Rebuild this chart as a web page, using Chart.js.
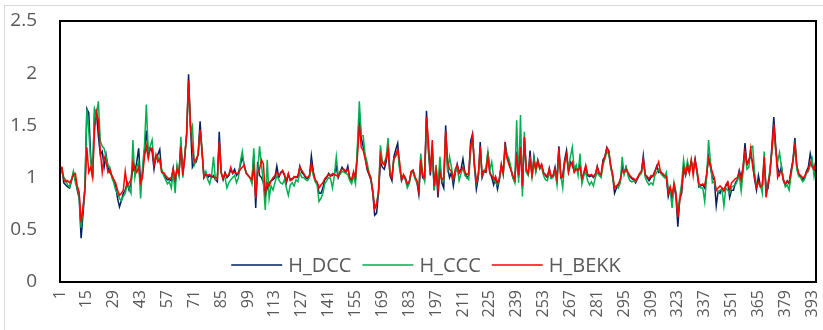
<!DOCTYPE html>
<html>
<head>
<meta charset="utf-8">
<script src="https://cdn.jsdelivr.net/npm/chart.js@4.4.1/dist/chart.umd.min.js"></script>
<style>
  html, body { margin: 0; padding: 0; background: #fff; }
  #wrap { position: relative; width: 823px; height: 330px; }
</style>
</head>
<body>
<div id="wrap"><canvas id="hChart" width="823" height="330"></canvas></div>
<script>
// observation index 1..395 on the x axis
const categories = Array.from({ length: 395 }, (_, i) => String(i + 1));
const yTicks = [0, 0.5, 1, 1.5, 2, 2.5];
const labelStep = 14; // 1, 15, 29 ... 393

const hDCC = [
  1.09, 1.09, 0.95, 0.93, 0.91, 0.90, 0.97, 1.05, 0.98, 0.88,
  0.80, 0.42, 0.65, 0.90, 1.66, 1.62, 1.20, 1.00, 1.65, 1.62,
  1.40, 1.22, 1.25, 1.10, 1.22, 1.10, 1.05, 1.02, 0.98, 0.92,
  0.80, 0.72, 0.78, 0.85, 0.88, 0.95, 0.88, 0.95, 1.10, 1.05,
  1.15, 1.28, 0.95, 1.05, 1.25, 1.45, 1.22, 1.28, 1.25, 1.08,
  1.20, 1.22, 1.27, 1.05, 1.04, 1.00, 0.98, 0.98, 0.97, 1.09,
  0.95, 1.10, 1.03, 1.32, 1.05, 1.20, 1.42, 1.99, 1.50, 1.10,
  1.14, 1.15, 1.23, 1.54, 1.25, 1.00, 1.04, 1.00, 1.02, 1.00,
  1.02, 0.98, 0.96, 1.44, 1.05, 0.98, 1.05, 1.00, 1.02, 1.08,
  1.04, 1.08, 1.02, 1.05, 1.12, 1.20, 1.12, 1.05, 1.02, 1.00,
  0.96, 1.22, 0.71, 1.15, 1.02, 1.00, 0.95, 0.82, 0.90, 0.95,
  0.97, 0.98, 1.00, 1.11, 1.00, 1.05, 1.06, 1.02, 0.95, 1.03,
  0.98, 0.99, 1.00, 1.01, 1.00, 1.11, 1.05, 1.03, 1.00, 0.99,
  1.01, 1.21, 1.06, 0.97, 0.95, 0.85, 0.85, 0.90, 0.98, 1.00,
  1.04, 1.02, 1.02, 1.04, 1.10, 1.00, 1.05, 1.10, 1.07, 1.05,
  1.11, 0.99, 0.97, 1.04, 0.99, 1.25, 1.62, 1.38, 1.30, 1.20,
  1.08, 1.03, 0.98, 0.85, 0.64, 0.66, 0.85, 1.15, 1.10, 1.08,
  1.15, 1.30, 1.02, 0.97, 1.20, 1.27, 1.33, 1.10, 0.97, 1.02,
  1.00, 0.93, 0.95, 1.05, 1.07, 1.00, 0.96, 0.84, 1.15, 1.00,
  0.98, 1.64, 1.25, 1.02, 1.28, 0.88, 1.10, 0.81, 1.10, 0.95,
  0.90, 1.50, 1.10, 1.00, 1.05, 0.92, 1.04, 1.13, 1.05, 1.08,
  1.18, 1.05, 1.00, 1.02, 1.35, 1.42, 1.10, 0.89, 1.00, 1.34,
  1.00, 1.06, 1.05, 1.25, 1.05, 1.00, 0.93, 1.00, 0.89, 0.98,
  1.12, 1.05, 1.34, 1.20, 1.15, 1.08, 1.00, 0.97, 1.25, 1.00,
  1.30, 0.89, 1.38, 1.06, 1.03, 1.26, 1.00, 1.20, 1.07, 1.17,
  1.10, 1.12, 1.05, 1.02, 1.00, 1.09, 1.00, 1.02, 1.10, 0.97,
  1.30, 1.00, 1.02, 1.17, 1.26, 1.06, 1.15, 1.12, 1.06, 1.10,
  1.06, 1.15, 0.97, 1.04, 1.10, 1.02, 1.01, 1.02, 1.00, 1.03,
  1.11, 1.04, 1.02, 1.17, 1.20, 1.29, 1.25, 1.10, 1.02, 0.85,
  0.90, 0.93, 0.97, 1.10, 1.04, 1.10, 1.04, 1.01, 0.99, 0.98,
  0.95, 0.99, 1.03, 1.05, 1.21, 1.02, 1.00, 0.97, 1.00, 1.02,
  1.06, 1.11, 1.05, 1.06, 1.03, 1.01, 1.00, 0.82, 0.90, 0.79,
  0.92, 0.82, 0.53, 0.80, 0.85, 1.10, 1.02, 1.10, 1.05, 1.16,
  1.08, 1.18, 1.05, 0.91, 0.92, 0.93, 0.90, 1.02, 1.20, 1.10,
  1.00, 0.98, 0.73, 0.87, 0.85, 0.90, 0.88, 0.92, 0.95, 0.81,
  0.88, 0.88, 0.95, 0.98, 1.07, 1.00, 1.10, 1.33, 1.12, 1.17,
  1.20, 1.15, 0.98, 0.88, 1.02, 0.92, 0.92, 1.15, 0.92, 0.90,
  1.05, 1.30, 1.58, 1.30, 1.10, 1.03, 1.11, 0.97, 0.93, 0.97,
  0.94, 1.07, 1.17, 1.38, 1.10, 1.03, 1.01, 0.98, 1.00, 1.06,
  1.10, 1.23, 1.14, 1.06, 1.17
];

const hCCC = [
  1.08, 1.05, 1.00, 0.98, 0.93, 0.91, 0.98, 1.06, 0.95, 0.90,
  0.82, 0.52, 0.70, 0.92, 1.66, 1.45, 1.15, 1.05, 1.66, 1.60,
  1.73, 1.35, 1.30, 1.28, 1.20, 1.12, 1.10, 1.00, 0.95, 0.88,
  0.85, 0.80, 0.78, 0.82, 0.85, 0.93, 0.90, 0.85, 1.36, 1.00,
  1.10, 1.15, 0.80, 1.10, 1.30, 1.70, 1.25, 1.30, 1.36, 1.15,
  1.18, 1.20, 1.15, 1.08, 1.02, 0.98, 0.94, 0.96, 0.90, 1.05,
  0.85, 1.12, 1.02, 1.39, 1.00, 1.22, 1.40, 1.90, 1.45, 1.50,
  1.12, 1.17, 1.22, 1.45, 1.28, 1.02, 1.06, 0.98, 0.94, 1.02,
  1.20, 0.98, 1.00, 1.32, 1.04, 1.00, 1.00, 0.90, 0.95, 0.98,
  1.00, 1.02, 0.95, 1.00, 1.15, 1.25, 1.10, 1.05, 1.02, 1.00,
  0.94, 1.28, 0.85, 1.05, 1.30, 1.12, 0.95, 0.69, 1.17, 0.80,
  0.92, 0.88, 0.95, 1.02, 0.98, 0.95, 0.94, 0.98, 0.90, 0.83,
  0.93, 0.95, 0.92, 0.98, 0.96, 1.05, 1.00, 1.00, 0.98, 0.97,
  1.00, 1.10, 1.02, 0.96, 0.93, 0.77, 0.80, 0.85, 0.94, 0.97,
  1.00, 0.99, 0.90, 1.02, 1.20, 1.02, 1.03, 1.06, 1.05, 1.04,
  1.03, 0.97, 0.94, 1.02, 0.94, 1.30, 1.73, 1.40, 1.40, 1.22,
  1.15, 1.05, 1.00, 0.88, 0.72, 0.75, 0.86, 1.31, 1.15, 1.14,
  1.20, 1.38, 1.05, 1.02, 1.18, 1.20, 1.25, 1.08, 0.99, 1.00,
  0.98, 0.90, 0.94, 1.04, 1.05, 0.99, 0.95, 0.90, 1.23, 1.05,
  0.97, 1.50, 1.30, 1.05, 1.30, 0.88, 1.12, 0.92, 1.20, 0.97,
  0.97, 1.40, 1.05, 1.20, 1.10, 0.98, 1.05, 1.10, 0.97, 1.04,
  1.10, 1.02, 1.00, 0.98, 1.25, 1.38, 1.12, 0.95, 1.02, 1.25,
  1.02, 1.05, 1.10, 1.25, 1.08, 1.15, 1.00, 0.95, 0.93, 1.00,
  1.10, 1.02, 1.28, 1.22, 1.18, 1.10, 1.00, 0.95, 1.55, 0.95,
  1.60, 0.82, 1.44, 1.05, 1.02, 1.20, 1.01, 1.18, 1.05, 1.15,
  1.08, 1.10, 1.02, 0.98, 0.97, 1.05, 0.99, 1.00, 1.05, 0.93,
  1.25, 1.02, 0.90, 1.15, 1.20, 1.08, 1.20, 1.29, 1.08, 1.12,
  1.02, 1.23, 0.94, 1.02, 1.05, 0.97, 0.93, 0.96, 0.92, 1.00,
  1.05, 1.02, 1.00, 1.12, 1.18, 1.25, 1.22, 1.12, 1.00, 0.91,
  0.92, 0.90, 0.95, 1.20, 1.03, 1.10, 1.02, 0.97, 0.96, 0.97,
  0.96, 1.00, 1.02, 1.04, 1.15, 1.00, 0.96, 0.93, 0.95, 0.93,
  1.02, 1.05, 1.08, 1.04, 1.02, 1.00, 1.05, 0.90, 0.88, 0.71,
  0.95, 0.86, 0.65, 0.82, 0.95, 1.17, 1.04, 1.16, 1.07, 1.15,
  1.10, 1.15, 1.06, 0.93, 0.90, 0.90, 0.77, 1.00, 1.36, 1.15,
  0.95, 0.96, 0.88, 0.86, 0.88, 0.89, 0.73, 0.90, 0.88, 0.85,
  0.91, 0.92, 0.93, 0.97, 1.02, 0.87, 1.05, 1.25, 1.08, 1.10,
  1.29, 1.30, 1.05, 0.92, 0.95, 0.93, 0.85, 1.25, 0.82, 0.95,
  1.08, 1.25, 1.45, 1.25, 1.15, 1.24, 1.10, 0.99, 0.91, 0.93,
  0.88, 1.02, 1.15, 1.30, 1.08, 1.01, 1.00, 0.96, 0.98, 1.04,
  1.06, 1.12, 1.18, 1.01, 1.12
];

const hBEKK = [
  1.10, 1.10, 0.98, 0.96, 0.97, 0.95, 0.98, 1.03, 1.04, 0.92,
  0.86, 0.57, 0.72, 0.88, 1.29, 1.05, 1.10, 1.00, 1.45, 1.63,
  1.55, 1.25, 1.05, 1.20, 1.15, 1.05, 1.08, 1.02, 0.98, 0.95,
  0.88, 0.83, 0.85, 0.88, 1.06, 0.92, 0.95, 0.98, 1.15, 1.08,
  1.05, 1.10, 0.95, 1.00, 1.20, 1.30, 1.18, 1.28, 1.28, 1.12,
  1.22, 1.15, 1.18, 1.05, 1.05, 1.02, 1.00, 0.99, 1.00, 1.08,
  0.98, 1.08, 1.04, 1.30, 1.02, 1.18, 1.42, 1.93, 1.50, 1.28,
  1.15, 1.18, 1.22, 1.46, 1.26, 1.00, 1.03, 1.02, 1.03, 1.01,
  1.00, 1.00, 0.99, 1.35, 1.05, 0.99, 1.04, 1.01, 1.03, 1.10,
  1.04, 1.05, 1.04, 1.04, 1.08, 1.10, 1.12, 1.04, 1.02, 1.00,
  0.98, 1.10, 0.80, 1.05, 1.08, 1.17, 1.13, 0.85, 0.95, 0.92,
  0.97, 1.00, 1.02, 1.05, 1.02, 1.04, 1.07, 1.03, 0.97, 1.04,
  0.97, 0.98, 1.01, 1.00, 1.02, 1.10, 1.07, 1.04, 1.01, 1.00,
  1.02, 1.14, 1.05, 0.98, 0.96, 0.90, 0.93, 0.95, 0.99, 1.01,
  1.03, 1.01, 1.04, 1.03, 1.02, 1.01, 1.06, 1.08, 1.08, 1.06,
  1.08, 1.00, 0.98, 1.06, 1.00, 1.20, 1.51, 1.29, 1.26, 1.18,
  1.10, 1.04, 1.00, 0.87, 0.70, 0.74, 0.88, 1.22, 1.14, 1.12,
  1.18, 1.28, 1.03, 1.00, 1.18, 1.22, 1.27, 1.15, 0.98, 1.03,
  0.99, 0.94, 0.96, 1.06, 1.07, 1.01, 0.97, 0.87, 1.17, 1.02,
  1.00, 1.58, 1.35, 1.05, 1.36, 0.92, 1.07, 0.88, 1.05, 0.98,
  1.00, 1.45, 1.15, 1.08, 1.06, 0.98, 1.08, 1.12, 1.04, 1.07,
  1.10, 1.05, 1.03, 1.04, 1.30, 1.40, 1.12, 0.97, 1.03, 1.30,
  1.02, 1.07, 1.06, 1.20, 1.04, 1.02, 0.98, 1.01, 0.95, 0.99,
  1.13, 1.04, 1.30, 1.18, 1.12, 1.07, 1.02, 0.98, 1.22, 1.02,
  1.29, 0.92, 1.39, 1.08, 1.04, 1.18, 1.02, 1.15, 1.08, 1.16,
  1.09, 1.13, 1.04, 1.03, 1.01, 1.08, 1.01, 1.02, 1.08, 0.98,
  1.28, 1.01, 1.00, 1.14, 1.22, 1.05, 1.12, 1.15, 1.05, 1.08,
  1.07, 1.10, 0.99, 1.05, 1.12, 1.03, 1.02, 1.03, 1.01, 1.03,
  1.10, 1.04, 1.03, 1.15, 1.20, 1.28, 1.26, 1.12, 1.04, 0.90,
  0.92, 0.94, 0.98, 1.07, 1.05, 1.08, 1.05, 1.02, 1.00, 0.99,
  0.97, 1.00, 1.04, 1.06, 1.18, 1.03, 1.01, 0.99, 1.02, 1.01,
  1.05, 1.10, 1.15, 1.05, 1.04, 1.02, 1.01, 0.85, 0.91, 0.84,
  0.94, 0.85, 0.62, 0.78, 0.88, 1.10, 1.03, 1.12, 1.04, 1.17,
  1.02, 1.17, 1.07, 0.94, 0.93, 0.94, 0.92, 1.04, 1.18, 1.12,
  1.05, 1.00, 0.88, 0.90, 0.92, 0.90, 0.87, 0.93, 0.96, 0.88,
  0.95, 0.97, 0.99, 1.00, 1.05, 0.97, 1.10, 1.25, 1.13, 1.15,
  1.28, 1.10, 1.00, 0.91, 0.96, 0.91, 0.93, 1.20, 0.81, 0.94,
  1.04, 1.25, 1.51, 1.28, 1.00, 1.05, 1.06, 0.98, 0.94, 0.96,
  0.96, 1.05, 1.16, 1.33, 1.12, 1.04, 1.02, 1.00, 1.01, 1.05,
  1.08, 1.15, 1.10, 1.08, 1.15
];

const seriesNames = ['H_DCC', 'H_CCC', 'H_BEKK'];
const seriesColors = ['#002060', '#00B050', '#FF0000'];

const textGrey = '#595959';
const fontFam = '"Open Sans", "DejaVu Sans", sans-serif';

// frame, plot box and in-plot legend
const excelLook = {
  id: 'excelLook',
  beforeDraw(chart) {
    const c = chart.ctx;
    c.save();
    c.fillStyle = '#fff';
    c.fillRect(0, 0, chart.width, chart.height);
    c.strokeStyle = '#d9d9d9';
    c.lineWidth = 1;
    c.strokeRect(4.5, 5.5, chart.width + 10, chart.height + 10);
    c.restore();
  },
  afterDatasetsDraw(chart) {
    const c = chart.ctx;
    const a = chart.chartArea;
    c.save();
    c.strokeStyle = '#000';
    c.lineWidth = 2;
    c.strokeRect(a.left, a.top, a.right - a.left, a.bottom - a.top);

    c.font = '20px ' + fontFam;
    c.textBaseline = 'middle';
    const lineLen = 51, gap = 6, itemGap = 11;
    let total = 0;
    seriesNames.forEach(n => { total += lineLen + gap + c.measureText(n).width; });
    total += itemGap * (seriesNames.length - 1);
    let x = (a.left + a.right) / 2 - 12 - total / 2;
    const y = a.bottom - 17;
    seriesNames.forEach((n, i) => {
      c.strokeStyle = seriesColors[i];
      c.lineWidth = 1.5;
      c.beginPath();
      c.moveTo(x, y);
      c.lineTo(x + lineLen, y);
      c.stroke();
      x += lineLen + gap;
      c.fillStyle = textGrey;
      c.fillText(n, x, y + 1);
      x += c.measureText(n).width + itemGap;
    });
    c.restore();
  }
};

const ctx = document.getElementById('hChart').getContext('2d');
const hChart = new Chart(ctx, {
  type: 'line',
  data: {
    labels: categories,
    datasets: [
      { label: seriesNames[0], data: hDCC, borderColor: seriesColors[0], order: 3 },
      { label: seriesNames[1], data: hCCC, borderColor: seriesColors[1], order: 2 },
      { label: seriesNames[2], data: hBEKK, borderColor: seriesColors[2], order: 1 }
    ]
  },
  options: {
    responsive: false,
    animation: false,
    devicePixelRatio: 1,
    layout: { padding: { left: 0, right: 7, top: 21, bottom: 0 } },
    elements: {
      line: { borderWidth: 1.5, tension: 0, fill: false },
      point: { radius: 0, hoverRadius: 0 }
    },
    plugins: {
      legend: { display: false },
      tooltip: { enabled: false }
    },
    scales: {
      x: {
        offset: false,
        grid: { display: false, drawTicks: false },
        border: { display: false },
        ticks: {
          autoSkip: false,
          maxRotation: 90,
          minRotation: 90,
          padding: 8,
          color: textGrey,
          font: { family: fontFam, size: 16 },
          callback: function (val, idx) {
            return idx % labelStep === 0 ? this.getLabelForValue(val) : null;
          }
        },
        afterFit: s => {
          s.height = 48;
          s.paddingLeft = 0;
          s.paddingRight = 0;
        }
      },
      y: {
        min: yTicks[0],
        max: yTicks[yTicks.length - 1],
        grid: { display: false, drawTicks: false },
        border: { display: false },
        ticks: {
          stepSize: 0.5,
          padding: 23,
          color: textGrey,
          font: { family: fontFam, size: 19 },
          callback: v => String(v)
        },
        afterFit: s => {
          s.width = 60;
          s.paddingTop = 0;
          s.paddingBottom = 0;
        }
      }
    }
  },
  plugins: [excelLook]
});
</script>
